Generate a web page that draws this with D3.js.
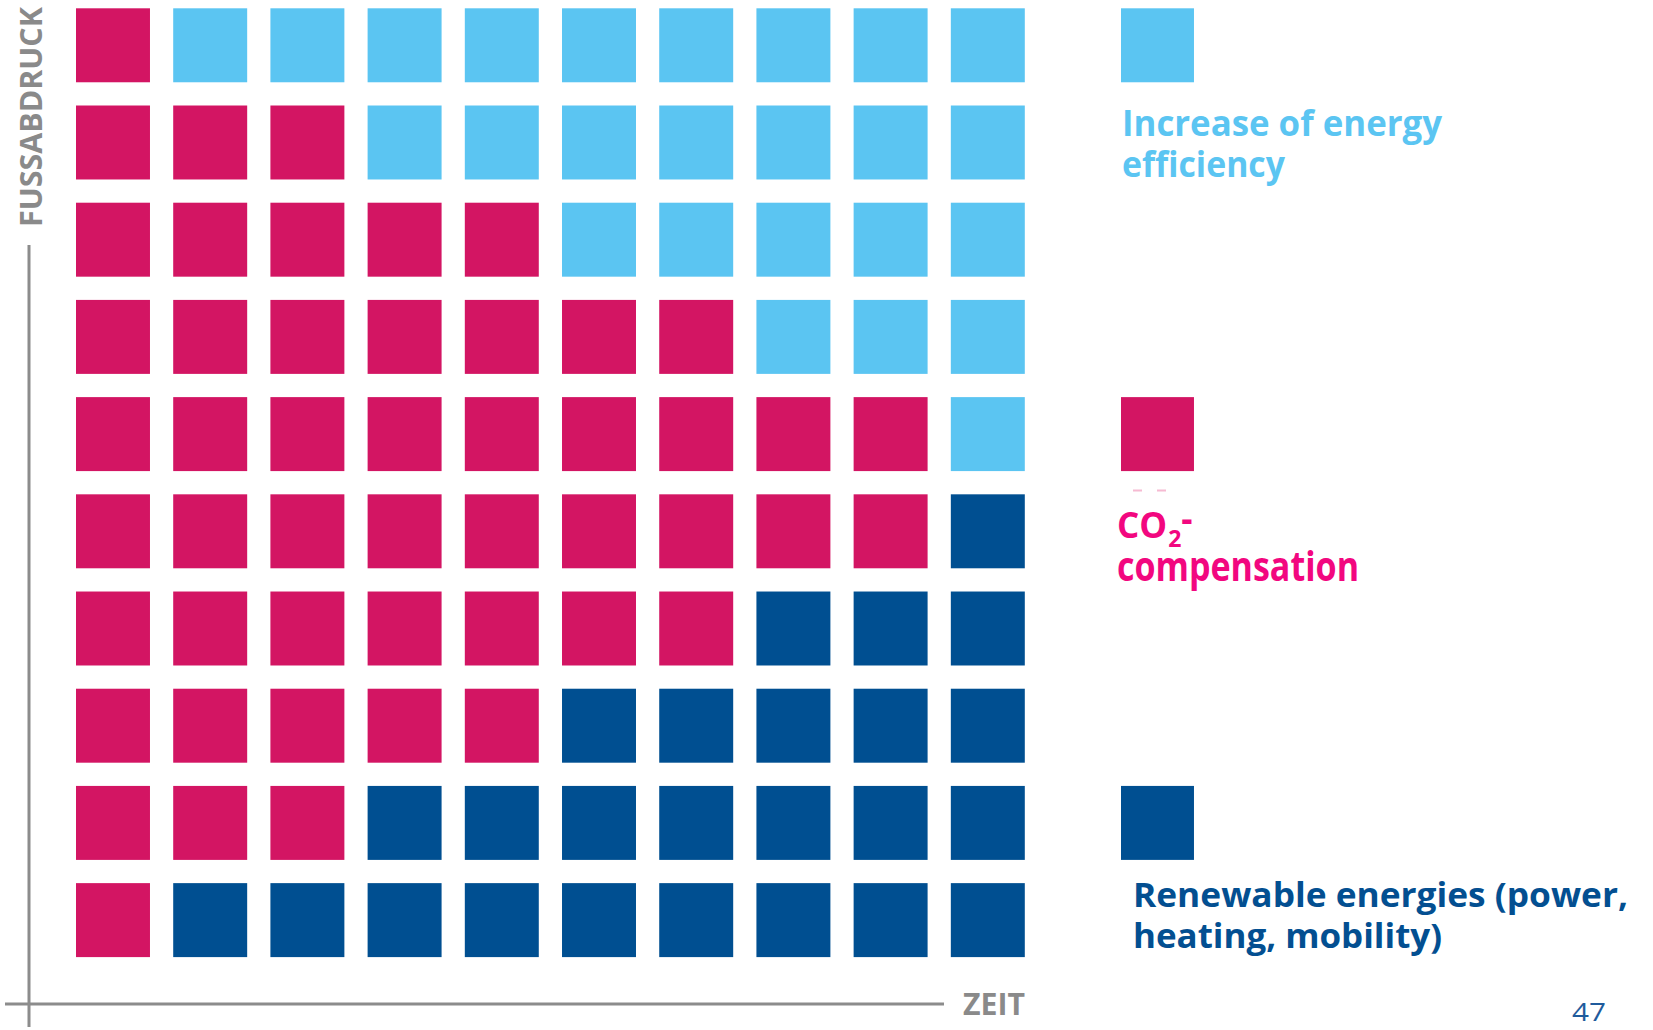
<!DOCTYPE html>
<html>
<head>
<meta charset="utf-8">
<script src="https://cdn.jsdelivr.net/npm/d3@7"></script>
<style>
  html, body { margin: 0; padding: 0; background: #ffffff; }
  svg { display: block; }
  text { font-family: "Open Sans", "Noto Sans", sans-serif; }
</style>
</head>
<body>
<svg id="chart" width="1653" height="1030"></svg>
<script>
// ---- Data (rows top to bottom, 10 squares each) ----
const rows = ["r1","r2","r3","r4","r5","r6","r7","r8","r9","r10"];
const columns = ["c1","c2","c3","c4","c5","c6","c7","c8","c9","c10"];
const compensation = [1, 3, 5, 7, 9, 9, 7, 5, 3, 1];
const efficiency   = [9, 7, 5, 3, 1, 0, 0, 0, 0, 0];
const renewable    = [0, 0, 0, 0, 0, 1, 3, 5, 7, 9];
const categories = ["compensation", "efficiency", "renewable"];
const categoryColors = ["#D31563", "#5BC5F2", "#004F91"];
const xAxisLabel = "ZEIT";
const yAxisLabel = "FUSSABDRUCK";
const pageNumber = "47";

// ---- Build cells ----
const cells = [];
rows.forEach((r, i) => {
  const seq = [];
  for (let k = 0; k < compensation[i]; k++) seq.push("compensation");
  for (let k = 0; k < efficiency[i]; k++) seq.push("efficiency");
  for (let k = 0; k < renewable[i]; k++) seq.push("renewable");
  seq.forEach((cat, j) => cells.push({ row: r, col: columns[j], cat }));
});

const svg = d3.select("#chart");

const x = d3.scaleBand().domain(columns).range([76, 1024.8]).paddingInner(0.239).paddingOuter(0);
const y = d3.scaleBand().domain(rows).range([8.3, 957.1]).paddingInner(0.239).paddingOuter(0);
const color = d3.scaleOrdinal().domain(categories).range(categoryColors);

// ---- Axes lines ----
const axisColor = "#8c8c8c";
svg.append("line").attr("x1", 29).attr("x2", 29).attr("y1", 245).attr("y2", 1027)
  .attr("stroke", axisColor).attr("stroke-width", 3);
svg.append("line").attr("x1", 5).attr("x2", 944).attr("y1", 1004).attr("y2", 1004)
  .attr("stroke", axisColor).attr("stroke-width", 3);

svg.append("text")
  .attr("transform", "translate(42,227) rotate(-90)")
  .attr("font-size", 31).attr("font-weight", 700).attr("fill", "#8a8a8a")
  .attr("textLength", 220).attr("lengthAdjust", "spacingAndGlyphs")
  .text(yAxisLabel);

svg.append("text")
  .attr("x", 963).attr("y", 1015)
  .attr("font-size", 30).attr("font-weight", 700).attr("fill", "#8a8a8a")
  .attr("textLength", 62).attr("lengthAdjust", "spacingAndGlyphs")
  .text(xAxisLabel);

// ---- Squares ----
svg.append("g").selectAll("rect").data(cells).join("rect")
  .attr("x", d => x(d.col))
  .attr("y", d => y(d.row))
  .attr("width", x.bandwidth())
  .attr("height", y.bandwidth())
  .attr("fill", d => color(d.cat));

// ---- Legend ----
const legendX = 1121;
const legendW = x.bandwidth() - 1;
const legendRows = { efficiency: "r1", compensation: "r5", renewable: "r9" };
Object.entries(legendRows).forEach(([cat, r]) => {
  svg.append("rect").attr("x", legendX).attr("y", y(r))
    .attr("width", legendW).attr("height", y.bandwidth()).attr("fill", color(cat));
});

// efficiency text
svg.append("text").attr("x", 1122).attr("y", 135.5)
  .attr("font-size", 35).attr("font-weight", 700).attr("fill", "#5BC5F2")
  .attr("textLength", 320).attr("lengthAdjust", "spacingAndGlyphs")
  .text("Increase of energy");
svg.append("text").attr("x", 1122).attr("y", 176.5)
  .attr("font-size", 35).attr("font-weight", 700).attr("fill", "#5BC5F2")
  .attr("textLength", 163).attr("lengthAdjust", "spacingAndGlyphs")
  .text("efficiency");

// small pink dashes under legend square
svg.append("rect").attr("x", 1133).attr("y", 489.5).attr("width", 9).attr("height", 2)
  .attr("fill", "#f08cb4").attr("opacity", 0.6);
svg.append("rect").attr("x", 1157).attr("y", 489.5).attr("width", 9).attr("height", 2)
  .attr("fill", "#f08cb4").attr("opacity", 0.6);

// CO2 text (one element with tspans)
const pinkText = "#F2077F";
const co2 = svg.append("text").attr("x", 1117).attr("y", 538)
  .attr("font-size", 35).attr("font-weight", 700).attr("fill", pinkText);
co2.append("tspan").text("CO");
co2.append("tspan").attr("font-size", 23).attr("dy", 9).attr("dx", 1).text("2");
co2.append("tspan").attr("dy", -16).text("-");

svg.append("text").attr("x", 1117).attr("y", 581)
  .attr("font-size", 41).attr("font-weight", 700).attr("fill", pinkText)
  .attr("textLength", 242).attr("lengthAdjust", "spacingAndGlyphs")
  .text("compensation");

// renewable text
const darkText = "#034F91";
svg.append("text").attr("x", 1133).attr("y", 907)
  .attr("font-size", 34).attr("font-weight", 700).attr("fill", darkText)
  .attr("textLength", 495).attr("lengthAdjust", "spacingAndGlyphs")
  .text("Renewable energies (power,");
svg.append("text").attr("x", 1133).attr("y", 948)
  .attr("font-size", 34).attr("font-weight", 700).attr("fill", darkText)
  .attr("textLength", 309).attr("lengthAdjust", "spacingAndGlyphs")
  .text("heating, mobility)");

// page number
svg.append("text").attr("x", 1572).attr("y", 1021)
  .attr("font-family", "Liberation Sans, Arial, sans-serif")
  .attr("font-size", 25).attr("fill", "#1F5B9C")
  .attr("textLength", 34).attr("lengthAdjust", "spacingAndGlyphs")
  .text(pageNumber);
</script>
</body>
</html>
